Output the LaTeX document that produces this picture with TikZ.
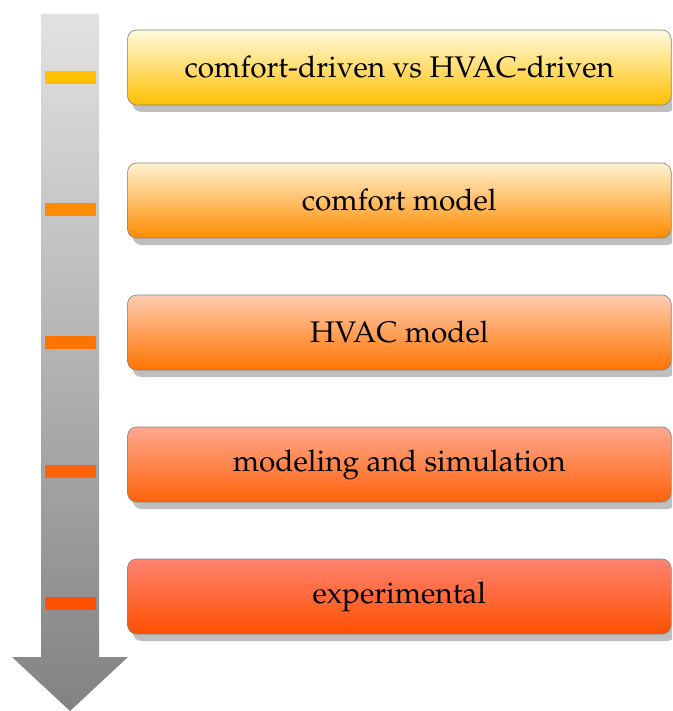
\documentclass[tikz,border=0pt]{standalone}
\usepackage[T1]{fontenc}
\usepackage{mathpazo}
\usetikzlibrary{shadows}
\definecolor{tickA}{RGB}{255,192,0}
\definecolor{tickB}{RGB}{255,140,0}
\definecolor{tickC}{RGB}{255,116,0}
\definecolor{tickD}{RGB}{255,98,10}
\definecolor{tickE}{RGB}{255,80,0}
\definecolor{topA}{RGB}{255,250,222}
\definecolor{topB}{RGB}{255,242,208}
\definecolor{topC}{RGB}{255,205,178}
\definecolor{topD}{RGB}{255,168,142}
\definecolor{topE}{RGB}{255,130,112}
\definecolor{barTop}{RGB}{226,226,226}
\definecolor{barBot}{RGB}{130,130,130}
\definecolor{boxLine}{RGB}{130,130,130}
\tikzset{
  stage/.style={draw=boxLine, line width=0.6pt, rounded corners=9pt,
    minimum width=543.5pt, minimum height=75pt, inner sep=0pt,
    font=\fontsize{29.8}{35}\selectfont,
    drop shadow={shadow xshift=5pt, shadow yshift=-7pt, fill=black, opacity=0.25}},
  tick/.style={minimum width=51pt, minimum height=13pt, inner sep=0pt}
}
\begin{document}
\begin{tikzpicture}[x=1pt,y=-1pt]
\useasboundingbox (0,0) rectangle (672,711);
\clip (0,0) rectangle (672,711);
% timeline arrow
\path[top color=barTop, bottom color=barBot]
  (41,14) -- (99,14) -- (99,657) -- (128,657) -- (70,711) -- (12,657) -- (41,657) -- cycle;
% stages
\node[stage, top color=topA, bottom color=tickA] (s1) at (399.3,67.5) {comfort-driven vs HVAC-driven};
\node[stage, top color=topB, bottom color=tickB] (s2) at (399.3,200.5) {comfort model};
\node[stage, top color=topC, bottom color=tickC] (s3) at (399.3,332.5) {HVAC model};
\node[stage, top color=topD, bottom color=tickD] (s4) at (399.3,464.5) {modeling and simulation};
\node[stage, top color=topE, bottom color=tickE] (s5) at (399.3,596.5) {experimental};
% markers on the timeline
\node[tick, fill=tickA] (t1) at (70.5,78) {};
\node[tick, fill=tickB] (t2) at (70.5,210) {};
\node[tick, fill=tickC] (t3) at (70.5,342) {};
\node[tick, fill=tickD] (t4) at (70.5,471) {};
\node[tick, fill=tickE] (t5) at (70.5,603) {};
\end{tikzpicture}
\end{document}
